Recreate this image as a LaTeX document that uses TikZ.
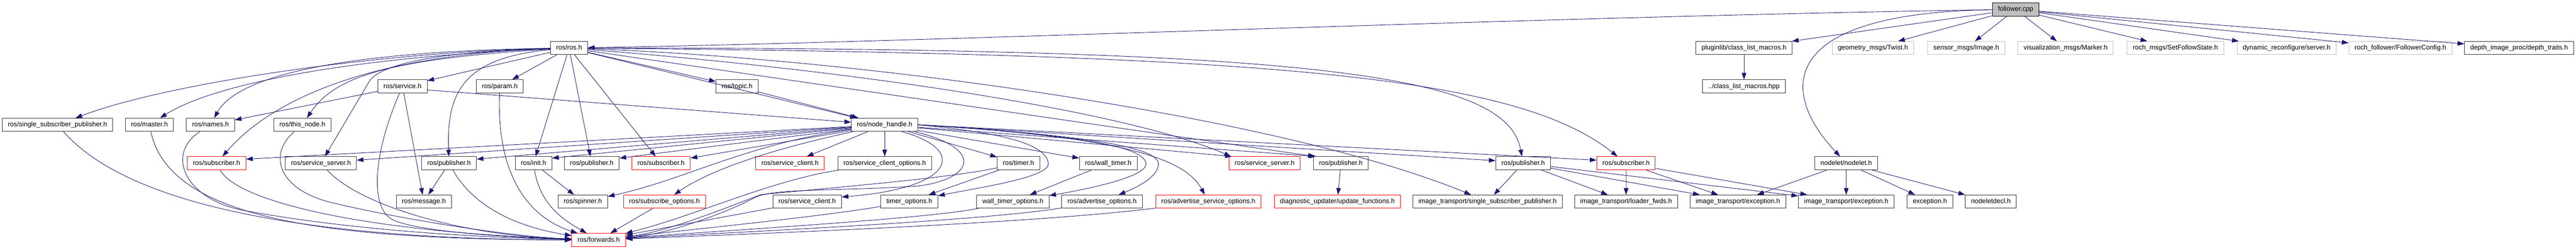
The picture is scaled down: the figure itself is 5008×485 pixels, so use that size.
\documentclass[tikz,border=0pt]{standalone}
\usepackage{fontspec}
\setmainfont{Liberation Sans}
\usetikzlibrary{arrows.meta}
\definecolor{midblue}{HTML}{191970}
\tikzset{
  hdr/.style={draw=black!80, line width=1pt, font=\fontsize{13}{15}\selectfont,
    inner xsep=11pt, inner ysep=0pt, minimum height=25.5pt, text height=10pt, text depth=3pt},
  hdrtrunc/.style={hdr, draw=red},
  hdrext/.style={hdr, draw=black!25},
  incl/.style={draw=midblue, line width=0.9pt, -{Triangle[length=13pt,width=9pt]}},
}
\begin{document}
\begin{tikzpicture}[x=1pt,y=-1pt]
\useasboundingbox (0,0) rectangle (5008,485);

% level 0 and 1
\node[hdr, fill=black!25, draw=black] (fol) at (3918.5,18.3) {follower.cpp};
\node[hdr] (rosh) at (1106.3,93.3) {ros/ros.h};
\node[hdr] (plug) at (3390.5,93.3) {pluginlib/class\_list\_macros.h};
\node[hdrext] (twist) at (3641.2,93.3) {geometry\_msgs/Twist.h};
\node[hdrext] (img) at (3822.5,93.3) {sensor\_msgs/Image.h};
\node[hdrext] (marker) at (4015.8,93.3) {visualization\_msgs/Marker.h};
\node[hdrext] (setfs) at (4229.2,93.3) {roch\_msgs/SetFollowState.h};
\node[hdrext] (dynsrv) at (4445.2,93.3) {dynamic\_reconfigure/server.h};
\node[hdrext] (fcfg) at (4666.5,93.3) {roch\_follower/FollowerConfig.h};
\node[hdr] (dtraits) at (4897.2,93.3) {depth\_image\_proc/depth\_traits.h};

% level 2
\node[hdr] (service) at (782.5,167.8) {ros/service.h};
\node[hdr] (param) at (971.8,167.8) {ros/param.h};
\node[hdr] (topic) at (1433,167.8) {ros/topic.h};
\node[hdr] (clmhpp) at (3390.5,167.8) {../class\_list\_macros.hpp};

% level 3
\node[hdr] (ssp) at (111.8,242.5) {ros/single\_subscriber\_publisher.h};
\node[hdr] (master) at (290.5,242.5) {ros/master.h};
\node[hdr] (names) at (409.2,242.5) {ros/names.h};
\node[hdr] (thisnode) at (587.8,242.5) {ros/this\_node.h};
\node[hdr] (nh) at (1719.9,242.5) {ros/node\_handle.h};

% level 4
\node[hdrtrunc] (sub1) at (421,317.2) {ros/subscriber.h};
\node[hdr] (srvsrv1) at (623.9,317.2) {ros/service\_server.h};
\node[hdr] (pub1) at (873,317.2) {ros/publisher.h};
\node[hdr] (init) at (1037.2,317.2) {ros/init.h};
\node[hdr] (pub2) at (1150.5,317.2) {ros/publisher.h};
\node[hdrtrunc] (sub2) at (1285.2,317.2) {ros/subscriber.h};
\node[hdrtrunc] (srvcli1) at (1535.8,317.2) {ros/service\_client.h};
\node[hdr] (srvcliopt) at (1719.9,317.2) {ros/service\_client\_options.h};
\node[hdr] (timer) at (1979.9,317.2) {ros/timer.h};
\node[hdr] (walltimer) at (2154.5,317.2) {ros/wall\_timer.h};
\node[hdrtrunc] (srvsrv2) at (2458.5,317.2) {ros/service\_server.h};
\node[hdr] (pub3) at (2606.7,317.2) {ros/publisher.h};
\node[hdr] (pub4) at (2961.2,317.2) {ros/publisher.h};
\node[hdrtrunc] (sub3) at (3161.2,317.2) {ros/subscriber.h};
\node[hdr] (nodelet) at (3589.2,317.2) {nodelet/nodelet.h};

% level 5
\node[hdr] (message) at (824,391.7) {ros/message.h};
\node[hdr] (spinner) at (1133,391.7) {ros/spinner.h};
\node[hdrtrunc] (subopts) at (1291.8,391.7) {ros/subscribe\_options.h};
\node[hdr] (srvcli2) at (1569.2,391.7) {ros/service\_client.h};
\node[hdr] (timeropts) at (1767.8,391.7) {timer\_options.h};
\node[hdr] (walltimeropts) at (1969.2,391.7) {wall\_timer\_options.h};
\node[hdr] (advopts) at (2142.4,391.7) {ros/advertise\_options.h};
\node[hdrtrunc] (advsrvopts) at (2349.2,391.7) {ros/advertise\_service\_options.h};
\node[hdrtrunc] (updfun) at (2600,391.7) {diagnostic\_updater/update\_functions.h};
\node[hdr] (itssp) at (2891.8,391.7) {image\_transport/single\_subscriber\_publisher.h};
\node[hdr] (loader) at (3161.3,391.7) {image\_transport/loader\_fwds.h};
\node[hdr] (itexc1) at (3378.7,391.7) {image\_transport/exception.h};
\node[hdr] (itexc2) at (3589.2,391.7) {image\_transport/exception.h};
\node[hdr] (exc) at (3751.9,391.7) {exception.h};
\node[hdr] (ndecl) at (3870.5,391.7) {nodeletdecl.h};

% level 6
\node[hdrtrunc] (fwd) at (1163.9,466.3) {ros/forwards.h};

% follower.cpp
\draw[incl] (fol) .. controls (3000,32) and (1800,82) .. (rosh);
\draw[incl] (fol) .. controls (3450,25) and (3460,180) .. ([xshift=-12pt]nodelet.north);
\foreach \n in {plug,twist,img,marker,setfs,dynsrv,fcfg,dtraits}
  \draw[incl] (fol) -- (\n);
\draw[incl] (plug) -- (clmhpp);

% ros/ros.h
\foreach \n in {service,param,topic,init,pub2,sub2,nh}
  \draw[incl] (rosh) -- (\n);
\draw[incl] (rosh) .. controls (750,100) and (330,160) .. (ssp);
\draw[incl] (rosh) .. controls (700,110) and (420,160) .. (master);
\draw[incl] (rosh) .. controls (650,100) and (460,150) .. (names);
\draw[incl] (rosh) .. controls (750,115) and (650,150) .. (thisnode);
\draw[incl] (rosh) .. controls (750,105) and (540,180) .. (sub1);
\draw[incl] (rosh) .. controls (850,100) and (740,125) .. (718,158) -- (srvsrv1);
\draw[incl] (rosh) .. controls (900,112) and (868,180) .. (pub1);
\draw[incl] (rosh) .. controls (1700,140) and (2200,220) .. ([xshift=4pt]srvsrv2.north west);
\draw[incl] (rosh) -- ([xshift=3pt]pub3.north west);
\draw[incl] (rosh) .. controls (1700,115) and (2500,230) .. (itssp);
\draw[incl] (rosh) .. controls (2600,92) and (2930,150) .. (pub4);
\draw[incl] (rosh) .. controls (2500,105) and (2950,150) .. (sub3);

% ros/service.h, ros/topic.h
\draw[incl] (service) -- (names);
\draw[incl] ([yshift=-7pt]service.east) -- ([yshift=5pt]nh.west);
\draw[incl] (service) -- (message);
\draw[incl] (topic) -- (nh);

% ros/node_handle.h
\draw[incl] (nh) -- ([yshift=8pt]sub1.east);
\draw[incl] (nh) -- ([yshift=6pt]srvsrv1.east);
\draw[incl] (nh) -- ([yshift=8pt]pub1.east);
\draw[incl] (nh) -- ([yshift=10pt]init.east);
\draw[incl] (nh) -- ([yshift=10pt]pub2.east);
\draw[incl] (nh) -- ([yshift=10pt]sub2.east);
\draw[incl] (nh) -- (srvcli1);
\draw[incl] (nh) -- (srvcliopt);
\draw[incl] (nh) -- (timer);
\draw[incl] (nh) -- ([yshift=10pt]walltimer.west);
\draw[incl] (nh) -- ([xshift=6pt]srvsrv2.north west);
\draw[incl] (nh) -- ([xshift=6pt]pub3.north west);
\draw[incl] (nh.east) -- ([yshift=5pt]pub4.west);
\draw[incl] (nh.east) -- ([yshift=6pt]sub3.west);
\draw[incl] (nh) .. controls (1450,280) and (1330,350) .. ([yshift=10pt]spinner.east);
\draw[incl] (nh) .. controls (1500,290) and (1380,330) .. (subopts);
\draw[incl] ([xshift=33pt]nh.south) .. controls (1880,290) and (1860,365) .. ([yshift=9pt]srvcli2.east);
\draw[incl] ([xshift=58pt]nh.south) .. controls (1920,290) and (1890,350) .. (1780,362)
  .. controls (1600,372) and (1500,366) .. (1465,385) .. controls (1420,410) and (1300,455) .. (fwd);
\draw[incl] (nh.east) .. controls (1950,258) and (2035,280) .. (2038,318)
  .. controls (2040,345) and (1900,365) .. (timeropts);
\draw[incl] (nh.east) .. controls (2100,262) and (2225,285) .. (2228,318)
  .. controls (2230,345) and (2100,370) .. (walltimeropts);
\draw[incl] (nh.east) .. controls (2150,265) and (2250,290) .. (2252,318)
  .. controls (2253,340) and (2220,360) .. (advopts);
\draw[incl] (nh.east) .. controls (2150,265) and (2300,300) .. (advsrvopts);

% timers
\draw[incl] (timer) -- (timeropts);
\draw[incl] (walltimer) -- (walltimeropts);
\draw[incl] (timer) .. controls (1850,345) and (1650,362) .. (1480,378)
  .. controls (1420,400) and (1300,450) .. (fwd);

% into ros/forwards.h from the right
\draw[incl] (subopts) -- (fwd);
\draw[incl] (srvcli2) -- (fwd);
\draw[incl] (srvcliopt) .. controls (1500,350) and (1350,420) .. (fwd);
\draw[incl] (timeropts) .. controls (1600,420) and (1400,440) .. (fwd);
\draw[incl] (walltimeropts) .. controls (1800,425) and (1450,445) .. (fwd);
\draw[incl] (advopts) .. controls (1900,430) and (1450,450) .. (fwd);
\draw[incl] (advsrvopts) .. controls (2000,435) and (1450,455) .. (fwd);

% into ros/forwards.h from the left
\draw[incl] (ssp) .. controls (250,400) and (600,465) .. (fwd);
\draw[incl] (master) .. controls (330,430) and (650,465) .. (fwd);
\draw[incl] (names) .. controls (320,300) and (360,390) .. (480,410)
  .. controls (700,450) and (950,462) .. (fwd);
\draw[incl] (thisnode) .. controls (520,300) and (540,370) .. (650,395)
  .. controls (800,430) and (1000,460) .. (fwd);
\draw[incl] (sub1) .. controls (460,390) and (700,450) .. (fwd);
\draw[incl] (srvsrv1) .. controls (700,400) and (900,458) .. (fwd);
\draw[incl] (service) .. controls (725,300) and (720,400) .. (760,425)
  .. controls (800,450) and (1000,462) .. (fwd);
\draw[incl] (pub1) .. controls (920,400) and (1000,440) .. (fwd);
\draw[incl] (param) .. controls (965,330) and (1020,420) .. (fwd);
\draw[incl] (init) .. controls (1050,400) and (1100,430) .. (fwd);
\draw[incl] (pub1) -- (message);
\draw[incl] (init) -- (spinner);

% publishers, subscribers, nodelet
\draw[incl] (pub3) -- (updfun);
\foreach \n in {itssp,loader,itexc1,itexc2}
  \draw[incl] (pub4) -- (\n);
\foreach \n in {loader,itexc1,itexc2}
  \draw[incl] (sub3) -- (\n);
\foreach \n in {itexc1,itexc2,exc,ndecl}
  \draw[incl] (nodelet) -- (\n);
\end{tikzpicture}
\end{document}
